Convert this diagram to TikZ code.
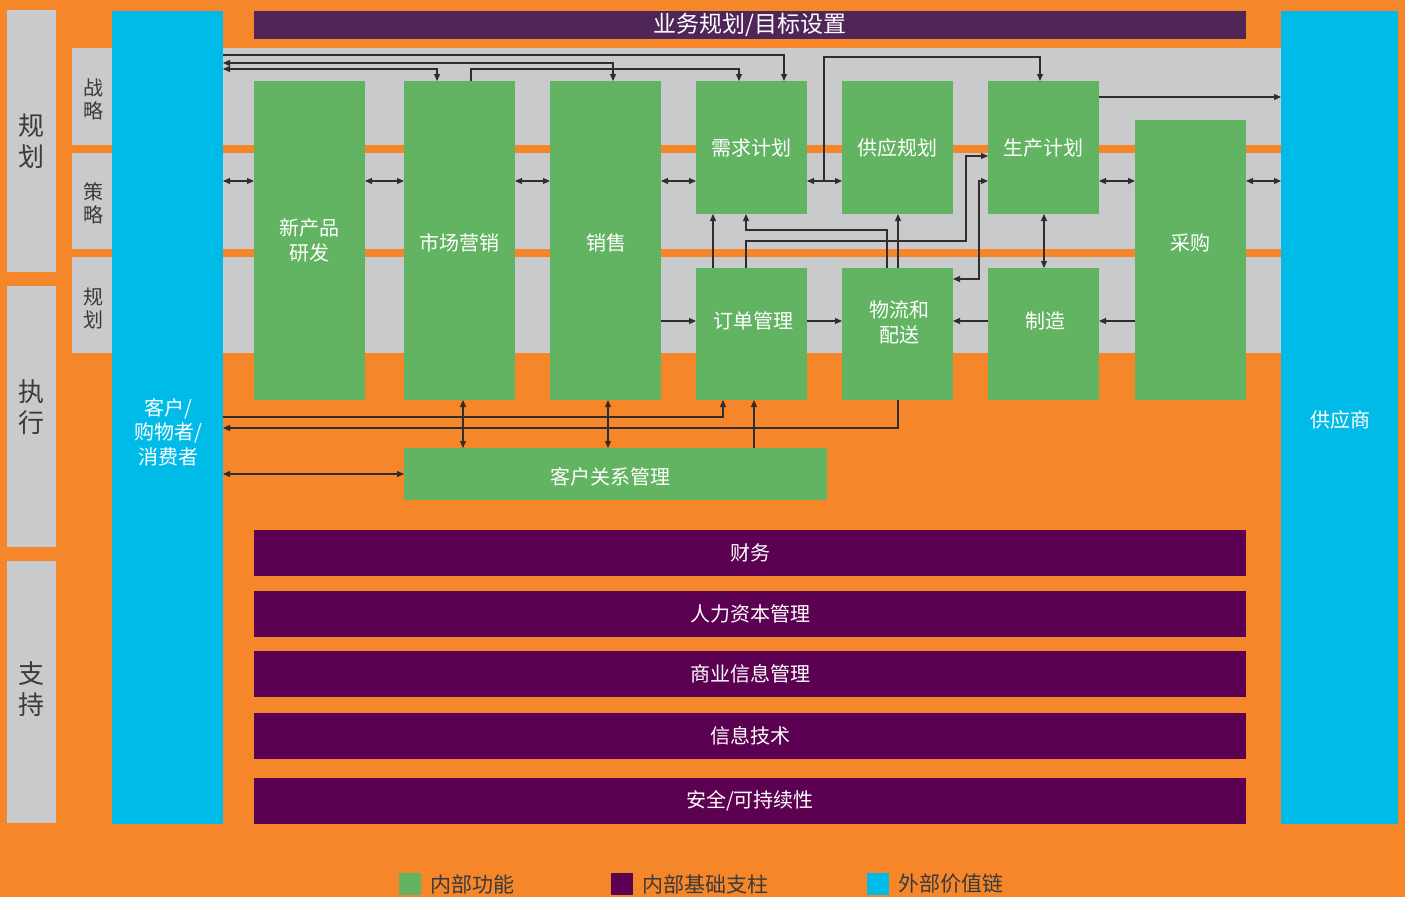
\documentclass[tikz,border=0pt]{standalone}
\usepackage{fontspec}
\setmainfont{Noto Sans CJK SC}
\usetikzlibrary{arrows.meta}
\definecolor{bgor}{HTML}{F5862A}
\definecolor{bandg}{HTML}{C9CACC}
\definecolor{cyanx}{HTML}{00BBE8}
\definecolor{greenx}{HTML}{62B462}
\definecolor{purx}{HTML}{5C0051}
\definecolor{purtop}{HTML}{502658}
\definecolor{linex}{HTML}{2E2E2E}
\definecolor{txtdark}{HTML}{3A3A3A}
\newcommand\mkbox[7]{\node[#6, minimum width={(#4-#2)*1pt}, minimum height={(#5-#3)*1pt}] (#1) at ({(#2+#4)/2},{(#3+#5)/2}) {#7};}
\tikzset{
  blk/.style={inner sep=0pt, outer sep=0pt, anchor=center, align=center},
  lgray/.style={blk, fill=bandg, text=txtdark, font=\fontsize{26}{31}\selectfont},
  bigl/.style={blk, text=txtdark, font=\fontsize{26}{31}\selectfont},
  bandbox/.style={blk, fill=bandg},
  smalllab/.style={blk, text=txtdark, font=\fontsize{20}{23}\selectfont},
  cbox/.style={blk, fill=cyanx, text=white, font=\fontsize{20}{24.5}\selectfont},
  ptopbox/.style={blk, fill=purtop, text=white, font=\fontsize{23}{26}\selectfont},
  pbox/.style={blk, fill=purx, text=white, font=\fontsize{20}{24}\selectfont},
  gbox/.style={blk, fill=greenx, text=white, font=\fontsize{20}{25}\selectfont},
  wtxt/.style={blk, text=white, font=\fontsize{20}{25}\selectfont},
  legsq/.style={blk},
  legtxt/.style={inner sep=0pt, outer sep=0pt, anchor=west, text=txtdark, font=\fontsize{21}{24}\selectfont},
  conn/.style={draw=linex, line width=1.1pt},
  arr/.style={conn, -{Triangle[length=7pt,width=6pt]}},
  darr/.style={conn, {Triangle[length=7pt,width=6pt]}-{Triangle[length=7pt,width=6pt]}},
}
\begin{document}
\begin{tikzpicture}[x=1pt,y=-1pt]
\useasboundingbox (0,0) rectangle (1405,897);
\mkbox{bg}{0}{0}{1405}{897}{blk, fill=bgor}{}
% left column
\mkbox{colA}{7}{10}{56}{272}{lgray}{规\\划}
\mkbox{colB}{7}{286}{56}{547}{lgray}{}
\node[bigl] (colBt) at (31.5,407) {执\\行};
\mkbox{colC}{7}{561}{56}{823}{lgray}{}
\node[bigl] (colCt) at (31.5,689) {支\\持};
% bands
\mkbox{band1}{72}{48}{1281}{145}{bandbox}{}
\mkbox{band2}{72}{153}{1281}{249}{bandbox}{}
\mkbox{band3}{72}{257}{1281}{353}{bandbox}{}
\node[smalllab] (lab1) at (93,99) {战\\略};
\node[smalllab] (lab2) at (93,203) {策\\略};
\node[smalllab] (lab3) at (93,308) {规\\划};
% cyan columns
\mkbox{cl}{112}{11}{223}{824}{cbox}{}
\node[wtxt, font=\fontsize{20}{24.5}\selectfont] (cltxt) at (168,432) {客户/\\购物者/\\消费者};
\mkbox{cr}{1281}{11}{1398}{824}{cbox}{}
\node[wtxt] (crtxt) at (1340,420) {供应商};
% purple bars
\mkbox{topbar}{254}{11}{1246}{39}{ptopbox}{业务规划/目标设置}
\mkbox{fin}{254}{530}{1246}{576}{pbox}{财务}
\mkbox{hr}{254}{591}{1246}{637}{pbox}{人力资本管理}
\mkbox{bim}{254}{651}{1246}{697}{pbox}{商业信息管理}
\mkbox{it}{254}{713}{1246}{759}{pbox}{信息技术}
\mkbox{sec}{254}{778}{1246}{824}{pbox}{安全/可持续性}
% green boxes
\mkbox{npd}{254}{81}{365}{400}{gbox}{新产品\\研发}
\mkbox{mkt}{404}{81}{515}{400}{gbox}{}
\node[wtxt] (mkttxt) at (459,243) {市场营销};
\mkbox{sal}{550}{81}{661}{400}{gbox}{}
\node[wtxt] (saltxt) at (606,243) {销售};
\mkbox{dem}{696}{81}{807}{214}{gbox}{需求计划}
\mkbox{sup}{842}{81}{953}{214}{gbox}{供应规划}
\mkbox{prod}{988}{81}{1099}{214}{gbox}{生产计划}
\mkbox{pur}{1135}{120}{1246}{400}{gbox}{}
\node[wtxt] (purtxt) at (1190,243) {采购};
\mkbox{ord}{696}{268}{807}{400}{gbox}{}
\node[wtxt] (ordtxt) at (753,321) {订单管理};
\mkbox{log}{842}{268}{953}{400}{gbox}{}
\node[wtxt] (logtxt) at (899,322) {物流和\\配送};
\mkbox{mfg}{988}{268}{1099}{400}{gbox}{}
\node[wtxt] (mfgtxt) at (1045,321) {制造};
\mkbox{crm}{404}{448}{827}{500}{gbox}{}
\node[wtxt] (crmtxt) at (610,477) {客户关系管理};
% helper coordinates
\foreach \v in {437,463,471,608,613,713,723,739,746,754,784,824,887,898,966,979,1040,1044}
  \coordinate (x\v) at (\v,0);
\foreach \v in {55,57,63,69,97,156,181,230,241,279,321,417,428,474}
  \coordinate (y\v) at (0,\v);
% top connectors
\draw[arr] (cl.east |- y55) -- (x784 |- y55) -- (dem.north -| x784);
\draw[darr] (cl.east |- y63) -- (x613 |- y63) -- (sal.north -| x613);
\draw[darr] (cl.east |- y69) -- (x437 |- y69) -- (mkt.north -| x437);
\draw[arr] (mkt.north -| x471) -- (x471 |- y69) -- (x739 |- y69) -- (dem.north -| x739);
\coordinate (split) at (x824 |- y181);
\draw[arr] (split) -- (x824 |- y57) -- (x1040 |- y57) -- (prod.north -| x1040);
\draw[arr] (prod.east |- y97) -- (cr.west |- y97);
% strategy row double arrows
\draw[darr] (cl.east |- y181) -- (npd.west |- y181);
\draw[darr] (npd.east |- y181) -- (mkt.west |- y181);
\draw[darr] (mkt.east |- y181) -- (sal.west |- y181);
\draw[darr] (sal.east |- y181) -- (dem.west |- y181);
\draw[darr] (dem.east |- y181) -- (sup.west |- y181);
\draw[darr] (prod.east |- y181) -- (pur.west |- y181);
\draw[darr] (pur.east |- y181) -- (cr.west |- y181);
% between rows
\draw[arr] (ord.north -| x713) -- (dem.south -| x713);
\draw[arr] (log.north -| x887) -- (x887 |- y230) -- (x746 |- y230) -- (dem.south -| x746);
\draw[arr] (log.north -| x898) -- (sup.south -| x898);
\draw[arr] (ord.north -| x746) -- (x746 |- y241) -- (x966 |- y241) -- (x966 |- y156) -- (prod.west |- y156);
\draw[darr] (log.east |- y279) -- (x979 |- y279) -- (x979 |- y181) -- (prod.west |- y181);
\draw[darr] (prod.south -| x1044) -- (mfg.north -| x1044);
% planning row
\draw[arr] (sal.east |- y321) -- (ord.west |- y321);
\draw[arr] (ord.east |- y321) -- (log.west |- y321);
\draw[arr] (mfg.west |- y321) -- (log.east |- y321);
\draw[arr] (pur.west |- y321) -- (mfg.east |- y321);
% lower connectors
\draw[arr] (cl.east |- y417) -- (x723 |- y417) -- (ord.south -| x723);
\draw[arr] (log.south -| x898) -- (x898 |- y428) -- (cl.east |- y428);
\draw[darr] (mkt.south -| x463) -- (crm.north -| x463);
\draw[darr] (sal.south -| x608) -- (crm.north -| x608);
\draw[arr] (crm.north -| x754) -- (ord.south -| x754);
\draw[darr] (cl.east |- y474) -- (crm.west |- y474);
% legend
\mkbox{leg1}{399}{873}{421}{895}{legsq, fill=greenx}{}
\node[legtxt] (leg1t) at (430,884) {内部功能};
\mkbox{leg2}{611}{873}{633}{895}{legsq, fill=purx}{}
\node[legtxt] (leg2t) at (642,884) {内部基础支柱};
\mkbox{leg3}{867}{873}{889}{895}{legsq, fill=cyanx}{}
\node[legtxt] (leg3t) at (898,884) {外部价值链};
\end{tikzpicture}
\end{document}
